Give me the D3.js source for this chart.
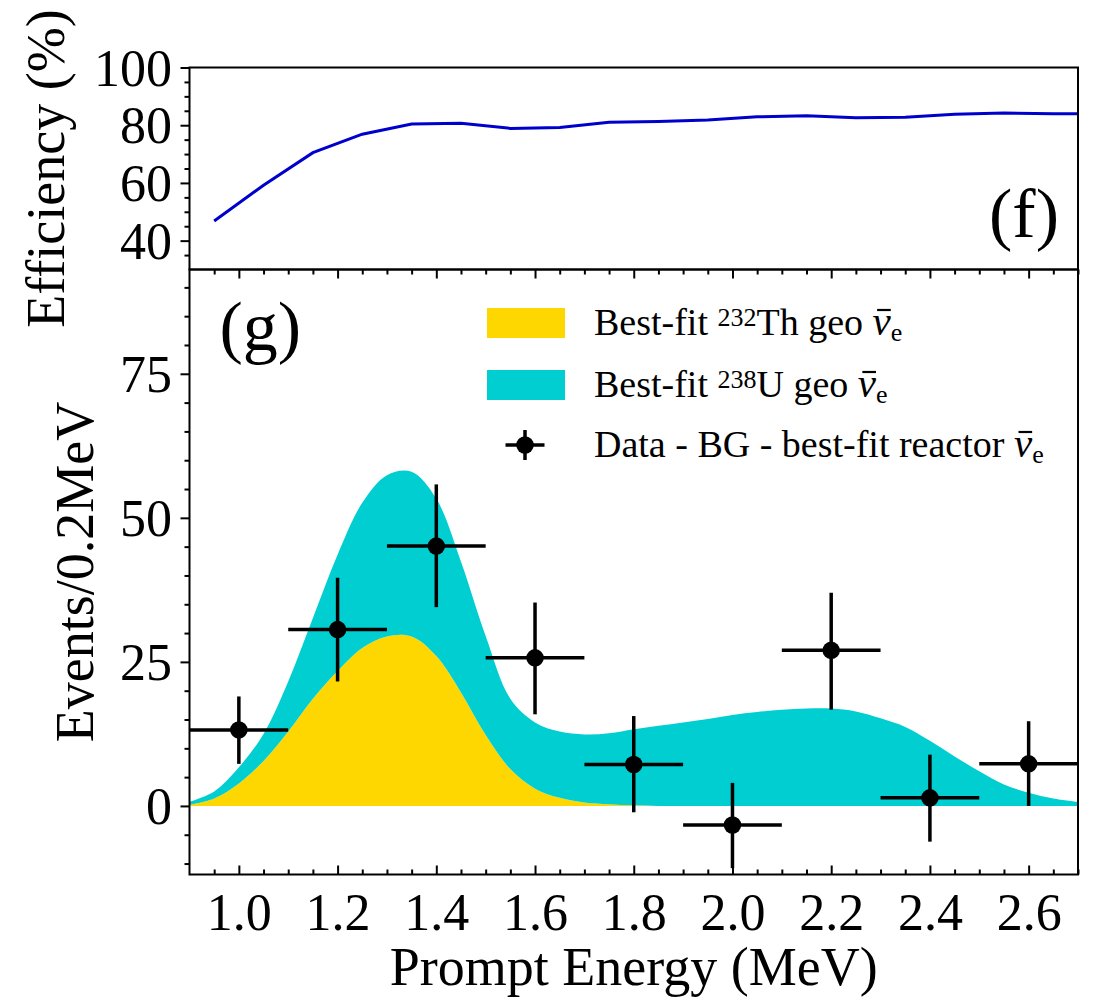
<!DOCTYPE html>
<html>
<head>
<meta charset="utf-8">
<script src="https://cdn.jsdelivr.net/npm/d3@7"></script>
<style>
  body { margin: 0; background: #fff; }
  svg text { font-family: "Liberation Serif", "Times New Roman", serif; fill: #000; }
</style>
</head>
<body>
<div id="plot"></div>
<script>
// ---- data ----

// top panel: selection efficiency (%)
const effEnergy = [0.95, 1.05, 1.15, 1.25, 1.35, 1.45, 1.55, 1.65, 1.75, 1.85,
                   1.95, 2.05, 2.15, 2.25, 2.35, 2.45, 2.55, 2.65, 2.75];
const effValue  = [46.8, 59.2, 70.5, 76.9, 80.4, 80.7, 78.9, 79.2, 81.0, 81.3,
                   81.8, 82.9, 83.3, 82.6, 82.8, 83.8, 84.2, 84.0, 83.9];

// bottom panel: best-fit geo-neutrino spectra (events / 0.2 MeV)
const specEnergy = [0.90, 0.95, 1.00, 1.05, 1.10, 1.15, 1.20, 1.25, 1.30, 1.35,
                    1.40, 1.45, 1.50, 1.55, 1.60, 1.65, 1.70, 1.75, 1.80, 1.85,
                    1.90, 1.95, 2.00, 2.05, 2.10, 2.15, 2.20, 2.25, 2.30, 2.35,
                    2.40, 2.45, 2.50, 2.55, 2.60, 2.65, 2.70];
const thCounts = [0.2, 1.3, 3.9, 7.8, 12.9, 18.6, 23.4, 27.4, 29.4, 29.4,
                  26.0, 19.7, 12.3, 6.4, 3.0, 1.4, 0.6, 0.3, 0.1, 0,
                  0, 0, 0, 0, 0, 0, 0, 0, 0, 0,
                  0, 0, 0, 0, 0, 0, 0];
const uCounts  = [0.5, 1.2, 2.8, 4.7, 8.7, 14.0, 20.2, 25.2, 28.0, 28.6,
                  27.3, 22.7, 17.2, 12.2, 11.5, 11.5, 11.8, 12.3, 13.2, 13.9,
                  14.5, 15.1, 15.8, 16.3, 16.7, 16.9, 16.9, 16.4, 15.2, 13.7,
                  11.3, 8.6, 6.0, 3.7, 2.3, 1.3, 0.7];

// data - BG - best-fit reactor
const dataEnergy  = [1.0, 1.2, 1.4, 1.6, 1.8, 2.0, 2.2, 2.4, 2.6];
const dataCounts  = [13.2, 30.6, 45.1, 25.7, 7.2, -3.3, 27.0, 1.4, 7.3];
const dataErrUp   = [5.8, 9.0, 10.7, 9.6, 8.4, 7.3, 10.0, 7.5, 7.4];
const dataErrDown = [5.9, 9.0, 10.6, 9.8, 8.3, 7.5, 10.3, 7.6, 7.3];
const binHalf = 0.1;

const effTicks = [40, 60, 80, 100];
const countTicks = [0, 25, 50, 75];
const energyTicks = [1.0, 1.2, 1.4, 1.6, 1.8, 2.0, 2.2, 2.4, 2.6];

const legendLabels = [
  {pre: "Best-fit ", sup: "232", post: "Th geo ", color: "#FFD700"},
  {pre: "Best-fit ", sup: "238", post: "U geo ", color: "#00CED1"},
  {pre: "Data - BG - best-fit reactor ", sup: "", post: "", color: null}
];

// ---- layout ----
const w = 1096, h = 1000;
const left = 189.5, right = 1078;
const topA = 67.5, midY = 269.5, botB = 874.5;

const svg = d3.select("#plot").append("svg")
    .attr("width", w)
    .attr("height", h);

const x = d3.scaleLinear().domain([0.9, 2.7]).range([left, right]);
const yEff = d3.scaleLinear().domain([30, 100]).range([midY, topA]);
const yCnt = d3.scaleLinear().domain([-11.9, 93.1]).range([botB, midY]);

svg.append("clipPath").attr("id", "clipA")
  .append("rect").attr("x", left).attr("y", topA)
    .attr("width", right - left).attr("height", midY - topA);
svg.append("clipPath").attr("id", "clipB")
  .append("rect").attr("x", left).attr("y", midY)
    .attr("width", right - left).attr("height", botB - midY);

// ---- top panel ----
const effData = effEnergy.map((e, i) => ({e: e, v: effValue[i]}));
svg.append("path")
    .datum(effData)
    .attr("clip-path", "url(#clipA)")
    .attr("fill", "none")
    .attr("stroke", "#0000CD")
    .attr("stroke-width", 3)
    .attr("d", d3.line().x(d => x(d.e)).y(d => yEff(d.v)));

// ---- bottom panel: stacked spectra ----
const rows = specEnergy.map((e, i) => ({e: e, th: thCounts[i], u: uCounts[i]}));
const stack = d3.stack().keys(["th", "u"])(rows);
const area = d3.area()
    .curve(d3.curveCatmullRom)
    .x(d => x(d.data.e))
    .y0(d => yCnt(d[0]))
    .y1(d => yCnt(d[1]));

svg.append("g").attr("clip-path", "url(#clipB)")
  .selectAll("path")
  .data(stack)
  .join("path")
    .attr("fill", (d, i) => legendLabels[i].color)
    .attr("d", area);

// error bars
const pts = dataEnergy.map((e, i) => ({e: e, v: dataCounts[i], up: dataErrUp[i], dn: dataErrDown[i]}));
const eb = svg.append("g").attr("stroke", "#000").attr("stroke-width", 3.5);
eb.selectAll(".xerr").data(pts).join("line")
    .attr("x1", d => x(d.e - binHalf)).attr("x2", d => x(d.e + binHalf))
    .attr("y1", d => yCnt(d.v)).attr("y2", d => yCnt(d.v));
eb.selectAll(".yerr").data(pts).join("line")
    .attr("x1", d => x(d.e)).attr("x2", d => x(d.e))
    .attr("y1", d => yCnt(d.v - d.dn)).attr("y2", d => yCnt(d.v + d.up));
svg.append("g").selectAll("circle").data(pts).join("circle")
    .attr("cx", d => x(d.e)).attr("cy", d => yCnt(d.v))
    .attr("r", 8.75).attr("fill", "#000");

// ---- axes ----
function styleAxis(g) {
  g.select(".domain").remove();
  g.selectAll(".tick line").attr("stroke", "#000").attr("stroke-width", 2);
  g.selectAll("text").attr("font-size", 52).attr("fill", "#000");
}

const minorEff = d3.range(35, 100, 5).filter(v => v % 20 !== 0);
const minorCnt = d3.range(-10, 93, 5).filter(v => v % 25 !== 0);
const minorE = d3.range(0.95, 2.71, 0.05).map(v => +v.toFixed(2))
    .filter(v => Math.abs(v * 5 - Math.round(v * 5)) > 1e-6);

// top panel y axis
svg.append("g").attr("transform", `translate(${left},0)`)
    .call(d3.axisLeft(yEff).tickValues(effTicks).tickSize(9).tickPadding(8.5)
      .tickFormat(d3.format("d")))
    .call(styleAxis)
    .selectAll("text").attr("dy", "0.34em");
svg.append("g").attr("transform", `translate(${left},0)`)
    .call(d3.axisLeft(yEff).tickValues(minorEff).tickSize(5).tickFormat(""))
    .call(styleAxis);

// bottom panel y axis
svg.append("g").attr("transform", `translate(${left},0)`)
    .call(d3.axisLeft(yCnt).tickValues(countTicks).tickSize(9).tickPadding(8.5)
      .tickFormat(d3.format("d")))
    .call(styleAxis)
    .selectAll("text").attr("dy", "0.34em");
svg.append("g").attr("transform", `translate(${left},0)`)
    .call(d3.axisLeft(yCnt).tickValues(minorCnt).tickSize(5).tickFormat(""))
    .call(styleAxis);

// bottom x axis (ticks inward)
svg.append("g").attr("transform", `translate(0,${botB})`)
    .call(d3.axisBottom(x).tickValues(energyTicks).tickSize(-9).tickFormat(d3.format(".1f")))
    .call(styleAxis)
    .selectAll("text").attr("y", 55).attr("dy", 0);
svg.append("g").attr("transform", `translate(0,${botB})`)
    .call(d3.axisBottom(x).tickValues(minorE).tickSize(-5).tickFormat(""))
    .call(styleAxis);

// top of bottom panel (ticks inward, no labels)
svg.append("g").attr("transform", `translate(0,${midY})`)
    .call(d3.axisTop(x).tickValues(energyTicks).tickSize(-9).tickFormat(""))
    .call(styleAxis);
svg.append("g").attr("transform", `translate(0,${midY})`)
    .call(d3.axisTop(x).tickValues(minorE).tickSize(-5).tickFormat(""))
    .call(styleAxis);

// frames
[[topA, midY], [midY, botB]].forEach(p => {
  svg.append("rect")
      .attr("x", left).attr("y", p[0])
      .attr("width", right - left).attr("height", p[1] - p[0])
      .attr("fill", "none").attr("stroke", "#000").attr("stroke-width", 2);
});

// ---- labels ----
svg.append("text")
    .attr("x", (left + right) / 2).attr("y", 985)
    .attr("text-anchor", "middle").attr("font-size", 54)
    .text("Prompt Energy (MeV)");

svg.append("text")
    .attr("transform", `translate(64,${(topA + midY) / 2}) rotate(-90)`)
    .attr("text-anchor", "middle").attr("font-size", 54)
    .text("Efficiency (%)");

svg.append("text")
    .attr("transform", `translate(93,${(midY + botB) / 2}) rotate(-90)`)
    .attr("text-anchor", "middle").attr("font-size", 54)
    .text("Events/0.2MeV");

svg.append("text")
    .attr("x", 1059).attr("y", 237)
    .attr("text-anchor", "end").attr("font-size", 70)
    .text("(f)");

svg.append("text")
    .attr("x", 219.5).attr("y", 350)
    .attr("font-size", 70)
    .text("(g)");

// ---- legend ----
const legX = 487, legTextX = 594;
const legBase = [335, 397, 457];
const leg = svg.append("g");

legendLabels.forEach((d, i) => {
  const by = legBase[i];
  if (d.color) {
    leg.append("rect")
        .attr("x", legX).attr("y", by - 27)
        .attr("width", 78).attr("height", 30)
        .attr("fill", d.color);
  } else {
    const cx = legX + 38, cy = by - 12;
    leg.append("line").attr("x1", cx - 19.5).attr("x2", cx + 19.5)
        .attr("y1", cy).attr("y2", cy)
        .attr("stroke", "#000").attr("stroke-width", 3.5);
    leg.append("line").attr("x1", cx).attr("x2", cx)
        .attr("y1", cy - 15).attr("y2", cy + 15)
        .attr("stroke", "#000").attr("stroke-width", 3.5);
    leg.append("circle").attr("cx", cx).attr("cy", cy).attr("r", 8.75).attr("fill", "#000");
  }

  const t = leg.append("text")
      .attr("x", legTextX).attr("y", by)
      .attr("font-size", 38);
  t.append("tspan").text(d.pre);
  if (d.sup) {
    t.append("tspan").attr("font-size", 26).attr("dy", -9).text(d.sup);
    t.append("tspan").attr("dy", 9).text(d.post);
  }
  t.append("tspan").attr("font-style", "italic").attr("font-size", 41).text("ν");
  t.append("tspan").attr("font-size", 26).attr("dy", 6).text("e");

  // bar over the nu
  const idx = t.text().indexOf("ν");
  const ext = t.node().getExtentOfChar(idx);
  leg.append("line")
      .attr("x1", ext.x + ext.width * 0.25).attr("x2", ext.x + ext.width * 1.0)
      .attr("y1", by - 25).attr("y2", by - 25)
      .attr("stroke", "#000").attr("stroke-width", 2.2);
});
</script>
</body>
</html>
